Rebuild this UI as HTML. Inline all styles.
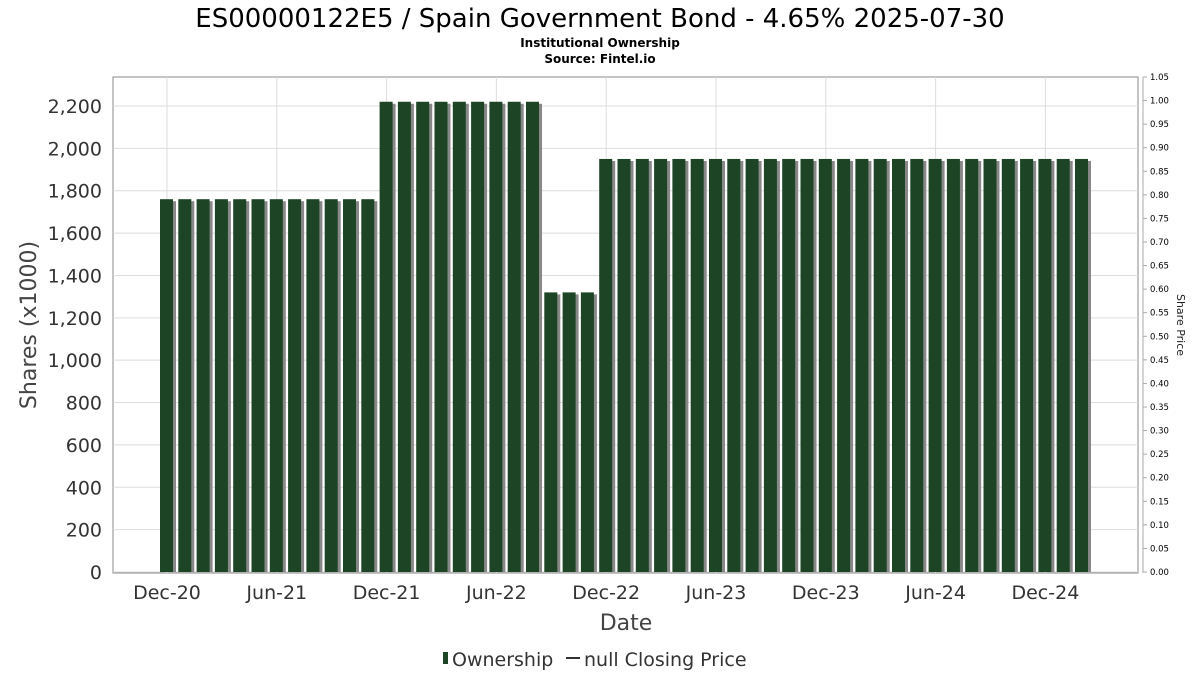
<!DOCTYPE html>
<html><head><meta charset="utf-8"><style>
body{margin:0;background:#fff;font-family:"DejaVu Sans","Liberation Sans",sans-serif}
</style></head><body>
<svg width="1200" height="675" xmlns="http://www.w3.org/2000/svg" font-family="DejaVu Sans, Liberation Sans, sans-serif">
<text x="600" y="27" text-anchor="middle" font-size="26" fill="#000">ES00000122E5 / Spain Government Bond - 4.65% 2025-07-30</text>
<text x="600" y="47" text-anchor="middle" font-size="12" font-weight="bold">Institutional Ownership</text>
<text x="600" y="63" text-anchor="middle" font-size="12" font-weight="bold">Source: Fintel.io</text>
<rect x="113" y="77" width="1025" height="496" fill="#fff" stroke="#888"/>
<g id="grid"></g><g id="bars"></g><g id="yleft"></g><g id="yright"></g><g id="xaxis"></g>
<line x1="1143" y1="77" x2="1143" y2="573" stroke="#aaa"/>
<text transform="translate(36,325) rotate(-90)" text-anchor="middle" font-size="22" fill="#444">Shares (x1000)</text>
<text transform="translate(1177,325) rotate(90)" text-anchor="middle" font-size="11" fill="#222">Share Price</text>
<text x="626" y="630" text-anchor="middle" font-size="22" fill="#444">Date</text>
<g>
<rect x="443" y="652" width="5" height="12" fill="#1c4425"/>
<text x="452" y="666" font-size="19" fill="#333">Ownership</text>
<line x1="566" y1="658" x2="580" y2="658" stroke="#333" stroke-width="2"/>
<text x="584" y="666" font-size="19" fill="#333">null Closing Price</text>
</g>
</svg>
<script>
const values=[1760,1760,1760,1760,1760,1760,1760,1760,1760,1760,1760,1760,2220,2220,2220,2220,2220,2220,2220,2220,2220,1320,1320,1320,1950,1950,1950,1950,1950,1950,1950,1950,1950,1950,1950,1950,1950,1950,1950,1950,1950,1950,1950,1950,1950,1950,1950,1950,1950,1950,1950];
const xTickLabels=["Dec-20","Jun-21","Dec-21","Jun-22","Dec-22","Jun-23","Dec-23","Jun-24","Dec-24"];
const xTickIndex=[0,6,12,18,24,30,36,42,48];
const yTicks=[0,200,400,600,800,1000,1200,1400,1600,1800,2000,2200];
const rTicks=[0,0.05,0.1,0.15,0.2,0.25,0.3,0.35,0.4,0.45,0.5,0.55,0.6,0.65,0.7,0.75,0.8,0.85,0.9,0.95,1.0,1.05];
const NS="http://www.w3.org/2000/svg";
const y=v=>572-v*(466/2200);
const yr=v=>572-v*(495/1.05);
const x=i=>167+i*18.3;
function mk(t,a,p){const e=document.createElementNS(NS,t);for(const k in a)e.setAttribute(k,a[k]);document.getElementById(p).appendChild(e);return e;}
yTicks.forEach(v=>{
 const g=mk('line',{x1:113,x2:1138,y1:y(v),y2:y(v),stroke:'#ddd'},'grid');
 
 
 const t=mk('text',{x:102,y:y(v)+7,'text-anchor':'end','font-size':19,fill:'#333'},'yleft');
 t.textContent=v.toLocaleString('en-US');
 
 
});
xTickIndex.forEach((idx,k)=>{
 const g=mk('line',{x1:x(idx),x2:x(idx),y1:77,y2:573,stroke:'#ddd'},'grid');
 
 
 const t=mk('text',{x:x(idx),y:599,'text-anchor':'middle','font-size':19,fill:'#333'},'xaxis');
 t.textContent=xTickLabels[k];
 
 
});
rTicks.forEach(v=>{
 const l=mk('line',{x1:1143,x2:1147,y1:yr(v),y2:yr(v),stroke:'#aaa'},'yright');
 
 
 const t=mk('text',{x:1150,y:yr(v)+3,'font-size':8.5,fill:'#000'},'yright');
 t.textContent=v.toFixed(2);
 
 
});
values.forEach((v,i)=>{
 const s=mk('rect',{x:x(i)-4,y:y(v)+2,width:13,height:572-y(v)-2,fill:'#888'},'bars');
 
 
 const b=mk('rect',{x:x(i)-7,y:y(v),width:13,height:572-y(v),fill:'#1c4425'},'bars');
 
 
});
</script>
</body></html>
